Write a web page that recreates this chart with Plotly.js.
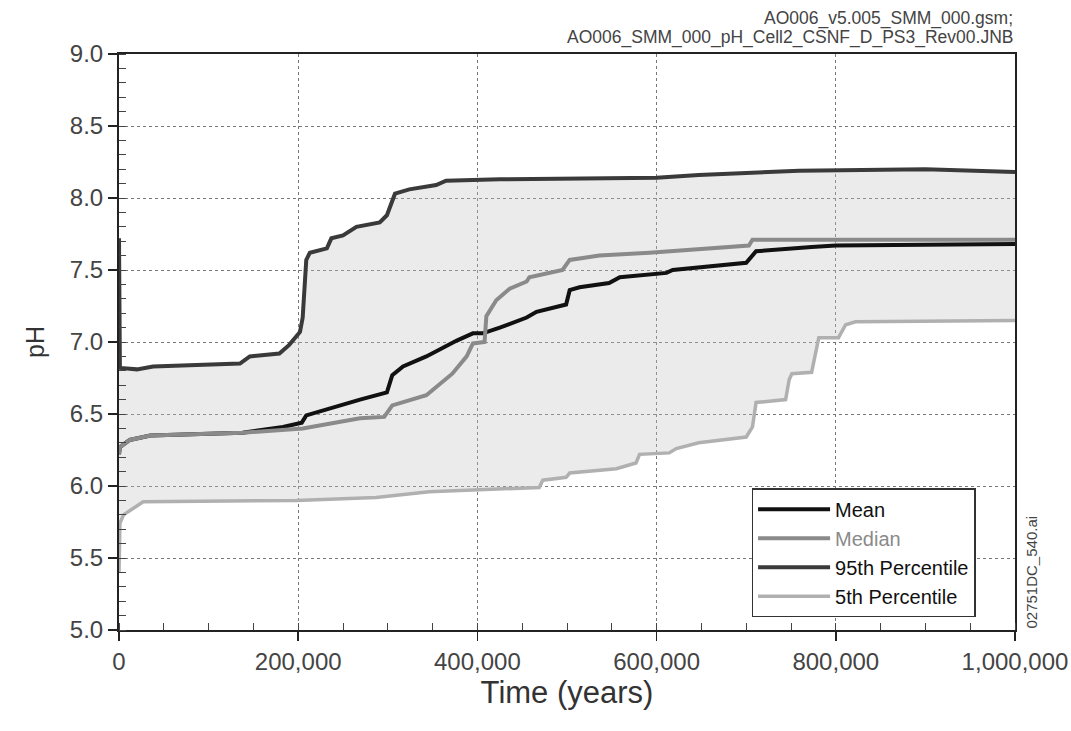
<!DOCTYPE html>
<html>
<head>
<meta charset="utf-8">
<script src="https://cdn.plot.ly/plotly-3.0.1.min.js"></script>
<style>html,body{margin:0;padding:0;background:#fff;}#chart{width:1071px;height:731px;}</style>
</head>
<body>
<div id="chart"></div>
<script>
// Time (years) and pH values
const tMean = [0, 1000, 12000, 35000, 138000, 183000, 204000, 209000, 269000, 299000, 305000, 317000, 343000, 377000, 395000, 406000, 425000, 455000, 466000, 499000, 503000, 514000, 547000, 559000, 611000, 618000, 700000, 707000, 711000, 773000, 800000, 1000000];
const pHMean = [6.22, 6.27, 6.32, 6.35, 6.37, 6.41, 6.44, 6.49, 6.60, 6.65, 6.77, 6.83, 6.90, 7.01, 7.06, 7.06, 7.10, 7.17, 7.21, 7.26, 7.36, 7.38, 7.41, 7.45, 7.48, 7.50, 7.55, 7.60, 7.63, 7.66, 7.67, 7.68];

const tMedian = [0, 1000, 12000, 35000, 138000, 183000, 205000, 269000, 296000, 305000, 343000, 372000, 388000, 395000, 408000, 410000, 421000, 436000, 455000, 458000, 495000, 503000, 536000, 592000, 703000, 707000, 1000000];
const pHMedian = [6.22, 6.27, 6.32, 6.35, 6.37, 6.39, 6.40, 6.47, 6.48, 6.56, 6.63, 6.78, 6.90, 6.99, 7.00, 7.18, 7.29, 7.37, 7.42, 7.45, 7.50, 7.57, 7.60, 7.62, 7.67, 7.71, 7.71];

const t95 = [0, 1000, 20000, 38000, 135000, 146000, 179000, 190000, 202000, 205000, 209000, 213000, 232000, 237000, 250000, 265000, 291000, 299000, 308000, 324000, 354000, 365000, 425000, 600000, 647000, 759000, 900000, 1000000];
const pH95 = [7.72, 6.82, 6.81, 6.83, 6.85, 6.90, 6.92, 6.98, 7.07, 7.17, 7.57, 7.62, 7.65, 7.72, 7.74, 7.80, 7.83, 7.88, 8.03, 8.06, 8.09, 8.12, 8.13, 8.14, 8.16, 8.19, 8.20, 8.18];

const t5 = [0, 1000, 5000, 27000, 198000, 287000, 346000, 458000, 469000, 473000, 499000, 503000, 555000, 577000, 581000, 614000, 622000, 647000, 700000, 707000, 711000, 744000, 748000, 751000, 773000, 781000, 803000, 811000, 822000, 1000000];
const pH5 = [5.40, 5.74, 5.80, 5.89, 5.90, 5.92, 5.96, 5.99, 5.99, 6.04, 6.06, 6.09, 6.12, 6.16, 6.22, 6.23, 6.26, 6.30, 6.34, 6.41, 6.58, 6.60, 6.74, 6.78, 6.79, 7.03, 7.03, 7.12, 7.14, 7.15];

const seriesNames = ['Mean', 'Median', '95th Percentile', '5th Percentile'];
const xTickVals = [0, 200000, 400000, 600000, 800000, 1000000];
const xTickText = ['0', '200,000', '400,000', '600,000', '800,000', '1,000,000'];
const yTickVals = [5.0, 5.5, 6.0, 6.5, 7.0, 7.5, 8.0, 8.5, 9.0];
const yTickText = ['5.0', '5.5', '6.0', '6.5', '7.0', '7.5', '8.0', '8.5', '9.0'];

const band = {
  x: t95.concat(t5.slice().reverse()),
  y: pH95.concat(pH5.slice().reverse()),
  type: 'scatter', mode: 'lines', fill: 'toself',
  fillcolor: 'rgba(195,195,195,0.33)', line: {width: 0},
  showlegend: false, hoverinfo: 'skip'
};

const traces = [
  band,
  {x: tMean, y: pHMean, name: seriesNames[0], type: 'scatter', mode: 'lines', line: {color: '#111111', width: 4}},
  {x: tMedian, y: pHMedian, name: '<span style="color:#8a8a8a">' + seriesNames[1] + '</span>', type: 'scatter', mode: 'lines', line: {color: '#8a8a8a', width: 4}},
  {x: t95, y: pH95, name: seriesNames[2], type: 'scatter', mode: 'lines', line: {color: '#3a3a3a', width: 4}},
  {x: t5, y: pH5, name: seriesNames[3], type: 'scatter', mode: 'lines', line: {color: '#b0b0b0', width: 3.5}}
];

const tickFont = {family: 'Liberation Sans, Arial, sans-serif', size: 24, color: '#444'};

const layout = {
  width: 1071, height: 731,
  margin: {l: 119, r: 56, t: 54, b: 101},
  paper_bgcolor: '#fff', plot_bgcolor: '#fff',
  font: {family: 'Liberation Sans, Arial, sans-serif', color: '#222'},
  showlegend: true,
  legend: {
    x: 0.706, y: 0.022, xanchor: 'left', yanchor: 'bottom',
    bgcolor: '#fff', bordercolor: '#333', borderwidth: 1.5,
    font: {size: 20, color: '#111'}, itemwidth: 72, tracegroupgap: 0
  },
  xaxis: {
    range: [0, 1000000], tickvals: xTickVals, ticktext: xTickText,
    tickfont: tickFont, ticks: 'outside', ticklen: 9, tickwidth: 1.5, tickcolor: '#222',
    minor: {dtick: 50000, tick0: 0, ticks: 'inside', ticklen: 7, tickwidth: 1, tickcolor: '#444', showgrid: false},
    showgrid: true, gridcolor: '#777', griddash: 'dot', gridwidth: 1,
    showline: true, linecolor: '#222', linewidth: 2, mirror: true, zeroline: false,
    title: {text: 'Time (years)', font: {size: 31, color: '#333'}, standoff: 8}
  },
  xaxis2: {
    range: [0, 1000000], overlaying: 'x', anchor: 'y', side: 'bottom',
    tickvals: xTickVals, showticklabels: false, ticks: 'inside', ticklen: 11, tickwidth: 1.5, tickcolor: '#222',
    showgrid: false, showline: false, zeroline: false
  },
  xaxis3: {
    range: [0, 1000000], overlaying: 'x', anchor: 'y', side: 'top',
    tickvals: xTickVals, showticklabels: false, ticks: 'inside', ticklen: 9, tickwidth: 1.5, tickcolor: '#222',
    minor: {dtick: 50000, tick0: 0, ticks: 'inside', ticklen: 7, tickwidth: 1, tickcolor: '#444'},
    showgrid: false, showline: false, zeroline: false
  },
  yaxis: {
    range: [5, 9], tickvals: yTickVals, ticktext: yTickText,
    tickfont: tickFont, ticks: 'outside', ticklen: 9, tickwidth: 1.5, tickcolor: '#222',
    minor: {dtick: 0.1, tick0: 5, ticks: 'inside', ticklen: 7, tickwidth: 1, tickcolor: '#444', showgrid: false},
    showgrid: true, gridcolor: '#777', griddash: 'dot', gridwidth: 1,
    showline: true, linecolor: '#222', linewidth: 2, mirror: true, zeroline: false,
    title: {text: 'pH', font: {size: 25, color: '#333'}, standoff: 18}
  },
  yaxis2: {
    range: [5, 9], overlaying: 'y', anchor: 'x', side: 'right',
    tickvals: yTickVals, showticklabels: false, ticks: 'inside', ticklen: 9, tickwidth: 1.5, tickcolor: '#222',
    minor: {dtick: 0.1, tick0: 5, ticks: 'inside', ticklen: 7, tickwidth: 1, tickcolor: '#444'},
    showgrid: false, showline: false, zeroline: false
  },
  annotations: [
    {text: 'AO006_v5.005_SMM_000.gsm;', xref: 'paper', yref: 'paper', x: 1.0, y: 1.062, xanchor: 'right', yanchor: 'middle', showarrow: false, font: {size: 17.5, color: '#444'}},
    {text: 'AO006_SMM_000_pH_Cell2_CSNF_D_PS3_Rev00.JNB', xref: 'paper', yref: 'paper', x: 1.0, y: 1.028, xanchor: 'right', yanchor: 'middle', showarrow: false, font: {size: 17.5, color: '#444'}},
    {text: '02751DC_540.ai', xref: 'paper', yref: 'paper', x: 1.018, y: 0.1, xanchor: 'center', yanchor: 'middle', textangle: -90, showarrow: false, font: {size: 15, color: '#444'}}
  ]
};

Plotly.newPlot('chart', traces, layout, {staticPlot: true, displayModeBar: false});
</script>
</body>
</html>
